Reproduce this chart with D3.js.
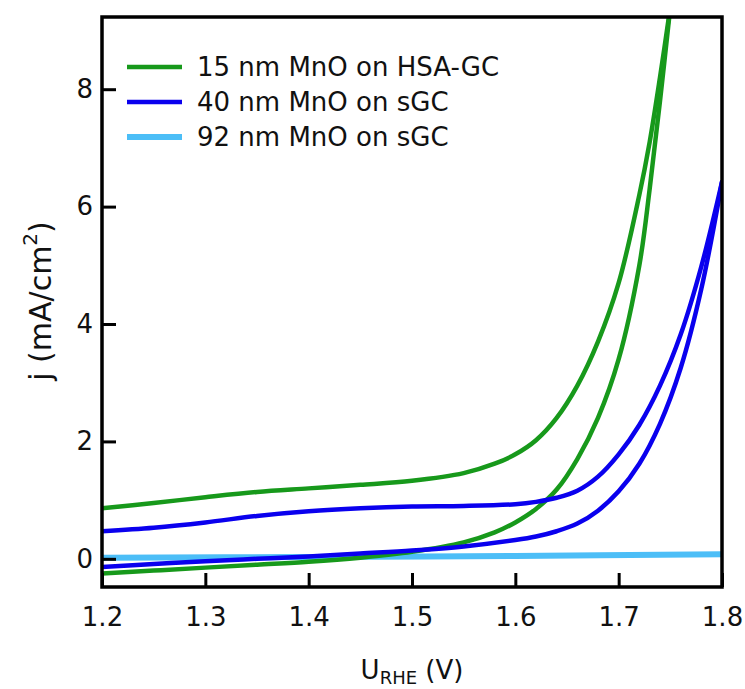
<!DOCTYPE html>
<html>
<head>
<meta charset="utf-8">
<script src="https://cdn.jsdelivr.net/npm/d3@7"></script>
<style>
  body { margin: 0; background: #fff; }
  text { font-family: "DejaVu Sans", sans-serif; fill: #111; }
</style>
</head>
<body>
<svg id="chart" width="745" height="689"></svg>
<script>
// ---- data ----
// 15 nm MnO on HSA-GC, return (upper) and forward (lower) branches
var voltsGreen = [1.20, 1.25, 1.30, 1.35, 1.40, 1.45, 1.50, 1.55, 1.58, 1.60, 1.62, 1.64, 1.66, 1.68, 1.70, 1.72, 1.73, 1.74, 1.75];
var greenUpper = [0.86, 0.95, 1.05, 1.14, 1.20, 1.26, 1.33, 1.46, 1.62, 1.78, 2.02, 2.40, 2.95, 3.70, 4.70, 6.20, 7.10, 8.20, 9.40];
var greenLower = [-0.25, -0.20, -0.15, -0.10, -0.05, 0.02, 0.12, 0.28, 0.45, 0.62, 0.85, 1.18, 1.70, 2.40, 3.40, 5.00, 6.30, 7.80, 9.40];

// 40 nm MnO on sGC
var voltsBlue = [1.20, 1.25, 1.30, 1.35, 1.40, 1.45, 1.50, 1.55, 1.60, 1.62, 1.64, 1.66, 1.68, 1.70, 1.72, 1.74, 1.76, 1.78, 1.80];
var blueUpper = [0.47, 0.53, 0.62, 0.73, 0.81, 0.86, 0.89, 0.90, 0.93, 0.97, 1.04, 1.16, 1.40, 1.78, 2.28, 2.95, 3.82, 4.98, 6.42];
var blueLower = [-0.14, -0.09, -0.04, 0.00, 0.04, 0.09, 0.14, 0.21, 0.32, 0.38, 0.47, 0.60, 0.82, 1.15, 1.62, 2.30, 3.25, 4.60, 6.42];

// 92 nm MnO on sGC
var voltsLight = [1.20, 1.40, 1.60, 1.80];
var lightCurrent = [0.02, 0.03, 0.05, 0.08];

var xTicks = [1.2, 1.3, 1.4, 1.5, 1.6, 1.7, 1.8];
var yTicks = [0, 2, 4, 6, 8];
var seriesNames = ["15 nm MnO on HSA-GC", "40 nm MnO on sGC", "92 nm MnO on sGC"];
var seriesColors = ["#17991b", "#0a00ee", "#4cbef7"];
var seriesWidths = [4.5, 4.5, 6];

// ---- layout ----
var width = 745, height = 689;
var margin = {top: 17, right: 23, bottom: 102, left: 102};

var svg = d3.select("#chart");

var x = d3.scaleLinear().domain([1.2, 1.8]).range([margin.left, width - margin.right]);
var y = d3.scaleLinear().domain([-0.48, 9.23]).range([height - margin.bottom, margin.top]);

svg.append("clipPath").attr("id", "plot-clip")
  .append("rect")
  .attr("x", x.range()[0]).attr("y", y.range()[1])
  .attr("width", x.range()[1] - x.range()[0])
  .attr("height", y.range()[0] - y.range()[1]);

function zipBranch(volts, amps) {
  return volts.map(function(v, i) { return [v, amps[i]]; });
}

var curves = [
  {series: 2, pts: zipBranch(voltsLight, lightCurrent)},
  {series: 0, pts: zipBranch(voltsGreen, greenUpper)},
  {series: 0, pts: zipBranch(voltsGreen, greenLower)},
  {series: 1, pts: zipBranch(voltsBlue, blueUpper)},
  {series: 1, pts: zipBranch(voltsBlue, blueLower)}
];

var line = d3.line()
  .x(function(d) { return x(d[0]); })
  .y(function(d) { return y(d[1]); })
  .curve(d3.curveCatmullRom.alpha(0.5));

svg.append("g").attr("clip-path", "url(#plot-clip)")
  .selectAll("path")
  .data(curves)
  .enter().append("path")
  .attr("d", function(d) { return line(d.pts); })
  .attr("fill", "none")
  .attr("stroke", function(d) { return seriesColors[d.series]; })
  .attr("stroke-width", function(d) { return seriesWidths[d.series]; })
  .attr("stroke-linecap", "round");

// ---- axes (ticks point inward) ----
var xAxis = d3.axisBottom(x).tickValues(xTicks).tickFormat(d3.format(".1f"))
  .tickSize(-14).tickPadding(21);
var gx = svg.append("g")
  .attr("transform", "translate(0," + y.range()[0] + ")")
  .call(xAxis);

var yAxis = d3.axisLeft(y).tickValues(yTicks).tickFormat(d3.format("d"))
  .tickSize(-14).tickPadding(9);
var gy = svg.append("g")
  .attr("transform", "translate(" + x.range()[0] + ",0)")
  .call(yAxis);

[gx, gy].forEach(function(g) {
  g.select(".domain").remove();
  g.selectAll(".tick line").attr("stroke", "#000").attr("stroke-width", 3);
  g.selectAll(".tick text").style("font-size", "26px").attr("fill", "#111");
});

// frame
svg.append("rect")
  .attr("x", x.range()[0]).attr("y", y.range()[1])
  .attr("width", x.range()[1] - x.range()[0])
  .attr("height", y.range()[0] - y.range()[1])
  .attr("fill", "none").attr("stroke", "#000").attr("stroke-width", 3.5);

// axis titles
var xt = svg.append("text")
  .attr("x", (x.range()[0] + x.range()[1]) / 2)
  .attr("y", 679)
  .attr("text-anchor", "middle")
  .style("font-size", "26px");
xt.append("tspan").text("U");
xt.append("tspan").attr("dy", 5).style("font-size", "18px").text("RHE");
xt.append("tspan").attr("dy", -5).text(" (V)");

var yt = svg.append("text")
  .attr("transform", "translate(51,301) rotate(-90)")
  .attr("text-anchor", "middle")
  .style("font-size", "30px");
yt.append("tspan").text("j (mA/cm");
yt.append("tspan").attr("dy", -14).style("font-size", "20px").text("2");
yt.append("tspan").attr("dy", 14).text(")");

// legend
var legend = svg.append("g").selectAll("g")
  .data(seriesNames)
  .enter().append("g")
  .attr("transform", function(d, i) { return "translate(127," + (67 + i * 35) + ")"; });

legend.append("line")
  .attr("x1", 0).attr("x2", 55)
  .attr("stroke", function(d, i) { return seriesColors[i]; })
  .attr("stroke-width", function(d, i) { return seriesWidths[i]; });

legend.append("text")
  .attr("x", 70).attr("dy", "0.36em")
  .style("font-size", "26px")
  .text(function(d) { return d; });
</script>
</body>
</html>
